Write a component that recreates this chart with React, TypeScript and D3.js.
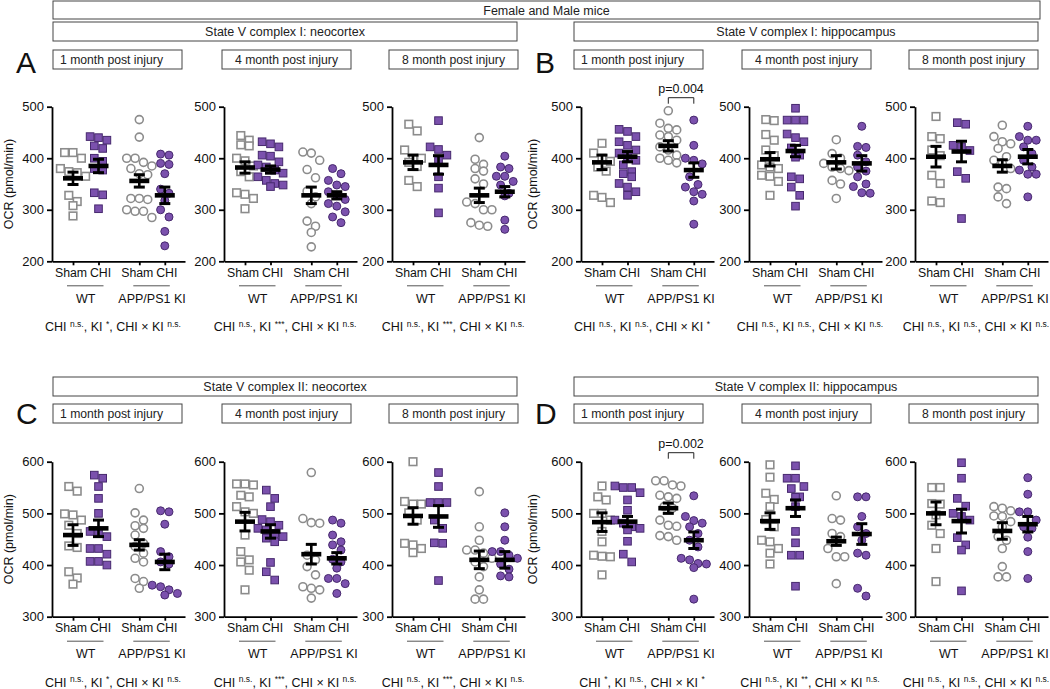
import React, { useEffect, useRef } from 'react';
import * as d3 from 'd3';

const W = 1050;
const H = 689;
const FONT = '"Liberation Sans", Arial, Helvetica, sans-serif';
const GRAY = '#8c8c8c';
const PURPLE = '#7b51ad';
const PURPLE_EDGE = '#47296e';

const groupLabels = ['Sham', 'CHI', 'Sham', 'CHI'];
const genotypes = ['WT', 'APP/PS1 KI'];
const timepoints = ['1 month post injury', '4 month post injury', '8 month post injury'];
const sectionTitles = [
  'State V complex I: neocortex',
  'State V complex I: hippocampus',
  'State V complex II: neocortex',
  'State V complex II: hippocampus',
];
const panelLetters = ['A', 'B', 'C', 'D'];
const banner = 'Female and Male mice';
const yTitle = 'OCR (pmol/min)';

// OCR values (pmol/min) per group: WT Sham, WT CHI, KI Sham, KI CHI
const a1 = [
  [411, 411, 400, 380, 374, 372, 365, 328, 316, 308, 288],
  [442, 440, 435, 424, 419, 400, 394, 380, 377, 333, 329, 302],
  [475, 441, 400, 400, 392, 385, 380, 370, 368, 322, 322, 320, 300, 297, 297, 285],
  [408, 406, 390, 388, 370, 340, 332, 318, 300, 286, 258, 230],
];
const a1Mean = [361, 385, 356, 328];
const a1Sem = [12, 13, 12, 16];

const a2 = [
  [444, 435, 426, 424, 400, 395, 385, 374, 364, 333, 330, 322, 302],
  [432, 428, 422, 406, 404, 393, 387, 383, 377, 371, 364, 357, 351, 348, 345],
  [412, 410, 396, 378, 362, 336, 325, 312, 278, 268, 256, 228],
  [380, 370, 357, 348, 345, 335, 328, 320, 312, 307, 296, 286, 275],
];
const a2Mean = [382, 378, 328, 328];
const a2Sem = [11, 7, 16, 7];

const a3 = [
  [466, 453, 416, 400, 400, 392, 384, 357, 345],
  [473, 422, 417, 406, 395, 364, 342, 294],
  [440, 398, 388, 380, 375, 360, 350, 315, 312, 300, 300, 275, 270, 268],
  [404, 383, 380, 365, 365, 355, 348, 332, 327, 280, 262],
];
const a3Mean = [392, 387, 328, 335];
const a3Sem = [14, 18, 14, 10];

const b1 = [
  [429, 410, 400, 394, 383, 375, 328, 324, 314],
  [456, 452, 442, 432, 425, 416, 410, 403, 396, 387, 374, 370, 364, 351, 344, 335, 328],
  [492, 468, 458, 455, 445, 442, 435, 422, 416, 406, 400, 396, 391],
  [474, 425, 400, 396, 389, 364, 349, 344, 335, 330, 317, 272],
];
const b1Mean = [392, 403, 424, 377];
const b1Sem = [14, 10, 10, 14];

const b2 = [
  [475, 473, 446, 435, 416, 405, 387, 383, 380, 367, 365, 355, 328],
  [497, 474, 474, 474, 447, 440, 432, 420, 406, 402, 364, 360, 344, 328, 307],
  [436, 409, 400, 390, 383, 380, 376, 357, 350, 322],
  [462, 423, 421, 406, 393, 383, 375, 364, 350, 345, 333, 332],
];
const b2Mean = [398, 414, 392, 390];
const b2Sem = [13, 11, 13, 15];

const b3 = [
  [481, 442, 438, 416, 405, 367, 351, 317, 314],
  [469, 466, 425, 422, 415, 374, 361, 283],
  [464, 442, 432, 428, 419, 403, 396, 390, 380, 344, 341, 325, 312],
  [462, 442, 435, 435, 422, 409, 396, 383, 377, 369, 369, 325],
];
const b3Mean = [403, 413, 385, 403];
const b3Sem = [20, 20, 12, 14];

const c1 = [
  [552, 543, 499, 497, 487, 477, 461, 437, 434, 387, 375, 363],
  [574, 568, 552, 529, 500, 465, 465, 455, 432, 432, 421, 407, 407, 400],
  [548, 501, 487, 476, 471, 458, 442, 436, 423, 413, 406, 374, 368, 355],
  [505, 503, 479, 426, 416, 406, 402, 361, 358, 352, 345, 342],
];
const c1Mean = [458, 471, 439, 406];
const c1Sem = [20, 16, 10, 15];

const c2 = [
  [557, 557, 555, 535, 532, 513, 503, 500, 458, 426, 410, 406, 390, 352],
  [545, 529, 513, 488, 484, 477, 471, 468, 461, 455, 452, 445, 405, 387, 371],
  [579, 490, 482, 481, 419, 410, 397, 381, 358, 355, 352, 336],
  [487, 481, 458, 445, 439, 429, 411, 406, 394, 374, 374, 364, 345],
];
const c2Mean = [484, 465, 421, 413];
const c2Sem = [18, 13, 19, 11];

const c3 = [
  [600, 523, 518, 518, 501, 487, 442, 439, 432, 424],
  [579, 552, 521, 521, 521, 487, 471, 443, 442, 370],
  [542, 474, 448, 429, 429, 423, 413, 406, 397, 377, 352, 334, 334],
  [501, 474, 448, 426, 426, 419, 413, 402, 392, 379, 377],
];
const c3Mean = [495, 494, 410, 410];
const c3Sem = [16, 21, 17, 16];

const d1 = [
  [553, 532, 526, 500, 500, 487, 465, 445, 419, 417, 416, 381],
  [553, 550, 550, 540, 526, 506, 487, 481, 474, 471, 468, 446, 421, 406],
  [563, 563, 555, 553, 535, 532, 529, 513, 510, 487, 477, 475, 457, 455, 448],
  [534, 494, 486, 481, 474, 461, 448, 435, 413, 410, 403, 402, 395, 334],
];
const d1Mean = [483, 484, 510, 448];
const d1Sem = [18, 10, 10, 16];

const d2 = [
  [594, 570, 539, 527, 513, 488, 474, 448, 445, 432, 423, 402],
  [592, 568, 568, 552, 548, 532, 531, 513, 465, 443, 419, 419, 359],
  [534, 490, 487, 461, 455, 432, 416, 416, 364],
  [532, 532, 494, 474, 461, 448, 423, 419, 355, 340],
];
const d2Mean = [485, 510, 446, 460];
const d2Sem = [16, 16, 8, 20];

const d3v = [
  [550, 550, 519, 518, 497, 477, 461, 432, 368],
  [598, 568, 529, 514, 500, 494, 487, 453, 439, 429, 350],
  [513, 510, 505, 495, 494, 484, 474, 455, 448, 432, 397, 377, 377],
  [569, 537, 503, 503, 487, 474, 471, 454, 426, 374],
];
const d3Mean = [500, 485, 466, 479];
const d3Sem = [22, 23, 16, 15];

// two-way ANOVA results: CHI, KI, CHI × KI
const anova = [
  ['n.s.', '*', 'n.s.'], ['n.s.', '***', 'n.s.'], ['n.s.', '***', 'n.s.'],
  ['n.s.', 'n.s.', '*'], ['n.s.', 'n.s.', 'n.s.'], ['n.s.', 'n.s.', 'n.s.'],
  ['n.s.', '*', 'n.s.'], ['n.s.', '***', 'n.s.'], ['n.s.', '***', 'n.s.'],
  ['*', 'n.s.', '*'], ['n.s.', '**', 'n.s.'], ['n.s.', 'n.s.', 'n.s.'],
];
const b1P = 'p=0.004';
const d1P = 'p=0.002';

const panels = [
  { pts: a1, mean: a1Mean, sem: a1Sem },
  { pts: a2, mean: a2Mean, sem: a2Sem },
  { pts: a3, mean: a3Mean, sem: a3Sem },
  { pts: b1, mean: b1Mean, sem: b1Sem, p: b1P },
  { pts: b2, mean: b2Mean, sem: b2Sem },
  { pts: b3, mean: b3Mean, sem: b3Sem },
  { pts: c1, mean: c1Mean, sem: c1Sem },
  { pts: c2, mean: c2Mean, sem: c2Sem },
  { pts: c3, mean: c3Mean, sem: c3Sem },
  { pts: d1, mean: d1Mean, sem: d1Sem, p: d1P },
  { pts: d2, mean: d2Mean, sem: d2Sem },
  { pts: d3v, mean: d3Mean, sem: d3Sem },
];

// layout
const colX = [52, 224, 392, 581, 749, 915];
const subBoxX = [53, 222, 389, 574, 742, 909];
const AXIS_LEN = 133;
const slots = [0, 1, 2.6, 3.6];
const SLOT_PX = 25.5;
const FIRST_OFFSET = 21;
const rowLayout = [
  { domain: [200, 500], bottom: 261.3, top: 106.7, ticks: [200, 300, 400, 500], sectionY: 22, subY: 50, letterY: 73 },
  { domain: [300, 600], bottom: 616.7, top: 461.7, ticks: [300, 400, 500, 600], sectionY: 377, subY: 404, letterY: 424 },
];

// simple deterministic swarm: bin by pixel y, spread each bin symmetrically
function swarm(values: number[], y: d3.ScaleLinear<number, number>, cx: number, d = 8.4) {
  const sorted = values.map((v) => y(v)).sort((a, b) => a - b);
  const bins: number[][] = [];
  sorted.forEach((py) => {
    const last = bins[bins.length - 1];
    if (last && py - last[0] < d) last.push(py);
    else bins.push([py]);
  });
  return bins.flatMap((b) => b.map((py, j) => ({ px: cx + (j - (b.length - 1) / 2) * d, py })));
}

const App = () => {
  const svgRef = useRef<SVGSVGElement>(null);

  useEffect(() => {
    const svg = d3.select(svgRef.current);
    svg.selectAll('*').remove();

    const box = (x: number, y: number, w: number, h: number, label: string, anchor = 'middle', size = 12.5) => {
      svg.append('rect').attr('x', x).attr('y', y).attr('width', w).attr('height', h)
        .attr('fill', 'none').attr('stroke', '#444').attr('stroke-width', 1);
      svg.append('text')
        .attr('x', anchor === 'middle' ? x + w / 2 : x + 7)
        .attr('y', y + h / 2).attr('dy', '0.36em')
        .attr('text-anchor', anchor)
        .attr('font-size', size).attr('font-family', FONT).attr('fill', '#222')
        .text(label);
    };

    box(53, 1, 987, 18, banner, 'middle', 12.5);

    rowLayout.forEach((R, r) => {
      box(53, R.sectionY, 464, 19, sectionTitles[r * 2]);
      box(574, R.sectionY, 464, 19, sectionTitles[r * 2 + 1]);
      subBoxX.forEach((bx, c) => {
        box(bx, R.subY, 129, 19, timepoints[c % 3], c % 3 === 0 ? 'start' : 'middle', 12.2);
      });
      [0, 1].forEach((h) => {
        svg.append('text').attr('x', h === 0 ? 16 : 535).attr('y', R.letterY)
          .attr('font-size', 30).attr('font-family', FONT).attr('fill', '#111')
          .text(panelLetters[r * 2 + h]);
        const ty = (R.top + R.bottom) / 2;
        svg.append('text')
          .attr('transform', `translate(${h === 0 ? 8 : 532},${ty}) rotate(-90)`)
          .attr('dy', '0.36em').attr('text-anchor', 'middle')
          .attr('font-size', 12.5).attr('font-family', FONT).attr('fill', '#111')
          .text(yTitle);
      });
    });

    panels.forEach((p, i) => {
      const R = rowLayout[Math.floor(i / 6)];
      const ax = colX[i % 6];
      const y = d3.scaleLinear().domain(R.domain).range([R.bottom, R.top]);
      const x = d3.scaleLinear().domain([0, 1]).range([ax + FIRST_OFFSET, ax + FIRST_OFFSET + SLOT_PX]);
      const xAxis = d3.scaleLinear().domain([x.invert(ax), x.invert(ax + AXIS_LEN)]).range([ax, ax + AXIS_LEN]);
      const g = svg.append('g');

      const styleAxis = (sel: any) => {
        sel.selectAll('path,line').attr('stroke', '#000').attr('stroke-width', 1.8);
        sel.selectAll('text').attr('font-size', 13).attr('font-family', FONT).attr('fill', '#111');
      };

      g.append('g').attr('transform', `translate(${ax},0)`)
        .call(d3.axisLeft(y).tickValues(R.ticks).tickSize(5).tickSizeOuter(0).tickPadding(3).tickFormat(d3.format('d')))
        .call(styleAxis);

      g.append('g').attr('transform', `translate(0,${R.bottom})`)
        .call(d3.axisBottom(xAxis).tickValues(slots).tickSize(4).tickSizeOuter(0).tickPadding(3)
          .tickFormat((_, k) => groupLabels[k]))
        .call(styleAxis)
        .call((s: any) => s.selectAll('text').attr('font-size', 12.3)
          .attr('dx', (_: any, k: number) => (k % 2 === 0 ? -2.5 : 1.5)));

      // genotype underlines and labels
      genotypes.forEach((gt, k) => {
        const xa = x(slots[k * 2]);
        const xb = x(slots[k * 2 + 1]);
        g.append('line').attr('x1', xa - 6).attr('x2', xb + 5)
          .attr('y1', R.bottom + 24.5).attr('y2', R.bottom + 24.5)
          .attr('stroke', '#555').attr('stroke-width', 1);
        g.append('text').attr('x', (xa + xb) / 2).attr('y', R.bottom + 41.5)
          .attr('text-anchor', 'middle').attr('font-size', 12.5).attr('font-family', FONT).attr('fill', '#111')
          .text(gt);
      });

      // individual animals
      p.pts.forEach((vals, k) => {
        const cx = x(slots[k]);
        const sham = k % 2 === 0;
        const circle = k >= 2;
        const pos = swarm(vals, y, cx);
        const fill = sham ? '#fff' : PURPLE;
        const stroke = sham ? GRAY : PURPLE_EDGE;
        const sw = sham ? 1.6 : 1;
        if (circle) {
          g.append('g').selectAll('circle').data(pos).join('circle')
            .attr('cx', (d) => d.px).attr('cy', (d) => d.py).attr('r', 4)
            .attr('fill', fill).attr('stroke', stroke).attr('stroke-width', sw);
        } else {
          g.append('g').selectAll('rect').data(pos).join('rect')
            .attr('x', (d) => d.px - 3.8).attr('y', (d) => d.py - 3.8)
            .attr('width', 7.6).attr('height', 7.6)
            .attr('fill', fill).attr('stroke', stroke).attr('stroke-width', sw);
        }
      });

      // mean ± SEM
      p.mean.forEach((m, k) => {
        const cx = x(slots[k]);
        const s = p.sem[k];
        const eb = g.append('g').attr('stroke', '#000');
        eb.append('line').attr('x1', cx).attr('x2', cx).attr('y1', y(m - s)).attr('y2', y(m + s)).attr('stroke-width', 2.6);
        [m - s, m + s].forEach((v) => {
          eb.append('line').attr('x1', cx - 5.5).attr('x2', cx + 5.5).attr('y1', y(v)).attr('y2', y(v)).attr('stroke-width', 3);
        });
        eb.append('line').attr('x1', cx - 10).attr('x2', cx + 10).attr('y1', y(m)).attr('y2', y(m)).attr('stroke-width', 4.6);
      });

      // post hoc bracket
      if (p.p) {
        const xa = x(slots[2]);
        const xb = x(slots[3]);
        const by = R.top - 9;
        g.append('path').attr('d', `M${xa},${by + 6}V${by}H${xb}V${by + 6}`)
          .attr('fill', 'none').attr('stroke', '#222').attr('stroke-width', 1);
        g.append('text').attr('x', (xa + xb) / 2).attr('y', by - 5)
          .attr('text-anchor', 'middle').attr('font-size', 12.5).attr('font-family', FONT).attr('fill', '#111')
          .text(p.p);
      }

      // ANOVA summary line
      const st = anova[i];
      const t = g.append('text').attr('x', ax + 61).attr('y', R.bottom + 70)
        .attr('text-anchor', 'middle').attr('font-size', 12.5).attr('font-family', FONT).attr('fill', '#111');
      const parts = ['CHI ', ', KI ', ', CHI × KI '];
      parts.forEach((txt, k) => {
        t.append('tspan').attr('dy', k === 0 ? 0 : 4.5).attr('font-size', 12.5).text(txt);
        t.append('tspan').attr('dy', -4.5).attr('font-size', 8.5).text(st[k]);
      });
    });
  }, []);

  return (
    <svg ref={svgRef} width={W} height={H} style={{ position: 'absolute', left: 0, top: 0, background: '#fff' }} />
  );
};

export default App;
